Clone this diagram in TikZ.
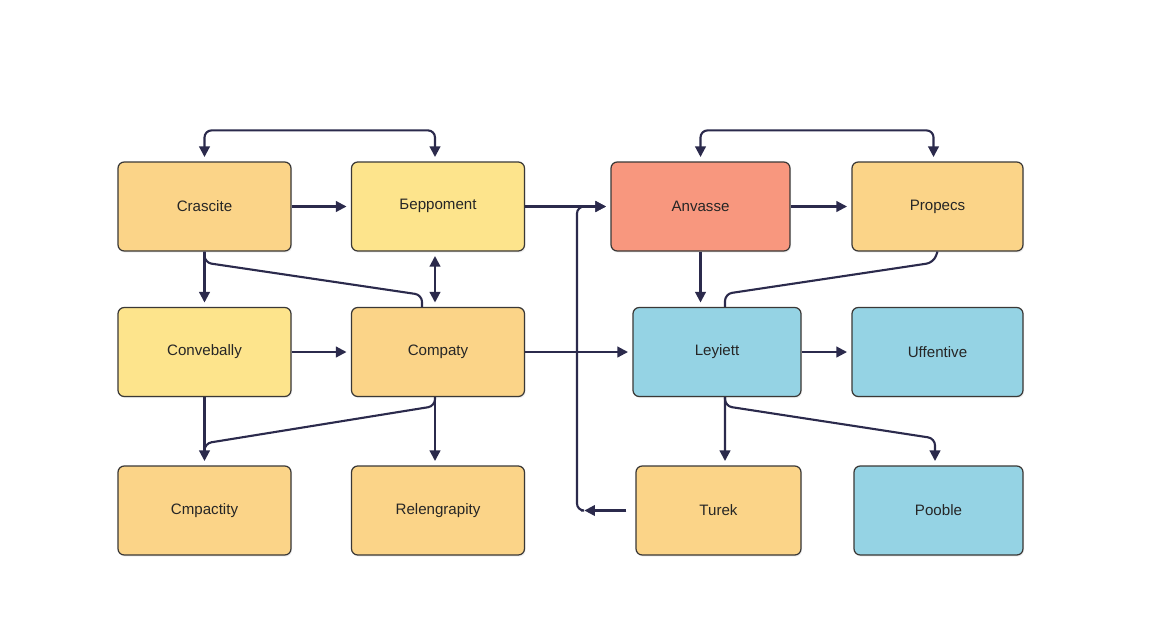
\documentclass[tikz,border=0pt]{standalone}
\usepackage{fontspec}
\setmainfont{Liberation Sans}
\usepackage{tikz}
\usetikzlibrary{arrows.meta,calc,shadows}
\definecolor{lineC}{HTML}{2B2A4C}
\definecolor{edgeC}{HTML}{3A3836}
\definecolor{orangeC}{HTML}{FBD488}
\definecolor{yellowC}{HTML}{FDE48C}
\definecolor{salmonC}{HTML}{F8977E}
\definecolor{blueC}{HTML}{95D3E4}

\begin{document}
\begin{tikzpicture}[x=0.02cm,y=-0.02cm,
  box/.style={draw=edgeC,line width=0.7pt,rounded corners=3.5pt,minimum width=3.46cm,minimum height=1.78cm,
    font=\fontsize{8.6}{10}\selectfont,text=black!85,drop shadow={opacity=0.12,shadow xshift=0.6pt,shadow yshift=-0.9pt}},
  conn/.style={draw=lineC,line width=1.2pt,rounded corners=4pt},
  arr/.style={conn,-{Triangle[length=6pt,width=6pt]},shorten >=2.5pt},
  darr/.style={arr,{Triangle[length=6pt,width=6pt]}-{Triangle[length=6pt,width=6pt]},shorten <=2.5pt}]
\useasboundingbox[fill=white] (0,0) rectangle (1152,640);

\node[box,fill=orangeC] (crascite) at (204.5,206.5) {Crascite};
\node[box,fill=yellowC] (eeppoment) at (438,206.5) {\raisebox{2pt}{Бeppoment}};
\node[box,fill=salmonC,minimum width=3.58cm] (anvasse) at (700.5,206.5) {Anvasse};
\node[box,fill=orangeC,minimum width=3.42cm] (propecs) at (937.5,206.5) {Propecs};

\node[box,fill=yellowC] (convebally) at (204.5,352) {Convebally};
\node[box,fill=orangeC] (company) at (438,352) {Compaty};
\node[box,fill=blueC,minimum width=3.36cm] (leyiett) at (717,352) {Leyiett};
\node[box,fill=blueC,minimum width=3.42cm] (uffentive) at (937.5,352) {Uffentive};

\node[box,fill=orangeC] (cmpactity) at (204.5,510.5) {Cmpactity};
\node[box,fill=orangeC] (relengrapity) at (438,510.5) {Relengrapity};
\node[box,fill=orangeC,minimum width=3.3cm] (turek) at (718.5,510.5) {Turek};
\node[box,fill=blueC,minimum width=3.38cm] (pooble) at (938.5,510.5) {Pooble};

\coordinate (loop) at (577,510.5);

\draw[darr] (crascite.north) -- ++(0,-31) -| ($(eeppoment.north)+(-3,0)$);
\draw[darr] (anvasse.north) -- ++(0,-31) -| ($(propecs.north)+(-4,0)$);

\draw[arr] (crascite.east) -- (eeppoment.west);
\draw[arr] (eeppoment.east) -- (anvasse.west);
\draw[arr] (anvasse.east) -- (propecs.west);
\draw[arr] (convebally.east) -- (company.west);
\draw[arr] (company.east) -- (leyiett.west);
\draw[arr] (leyiett.east) -- (uffentive.west);

\draw[arr] (crascite.south) -- (convebally.north);
\draw[darr] ($(eeppoment.south)+(-3,0)$) -- ($(company.north)+(-3,0)$);
\draw[conn] (crascite.south) -- ++(0,11) -- ($(company.north)+(-16,-12)$) -- ($(company.north)+(-16,0)$);
\draw[arr] (anvasse.south) -- (anvasse.south |- leyiett.north);
\draw[conn] (propecs.south) -- ++(-4,11) -- ($(leyiett.north)+(8,-13)$) -- ($(leyiett.north)+(8,0)$);

\draw[arr] (convebally.south) -- (cmpactity.north);
\draw[arr] ($(company.south)+(-3,0)$) -- ($(relengrapity.north)+(-3,0)$);
\draw[conn] ($(company.south)+(-3,0)$) -- ++(0,9) -- ($(cmpactity.north)+(0,-22)$) -- ($(cmpactity.north)+(0,-14)$);
\draw[arr] ($(leyiett.south)+(8,0)$) -- ($(turek.north)+(6.5,0)$);
\draw[arr] ($(leyiett.south)+(8,0)$) -- ++(0,9) -- ($(pooble.north)+(-3.5,-27)$) -- ($(pooble.north)+(-3.5,0)$);

\draw[arr] ($(turek.west)+(-9,0)$) -- ($(loop)+(3,0)$);
\draw[arr] ($(loop)+(4,0)$) -- (loop) -- (loop |- anvasse.west) -- (anvasse.west);
\end{tikzpicture}
\end{document}
